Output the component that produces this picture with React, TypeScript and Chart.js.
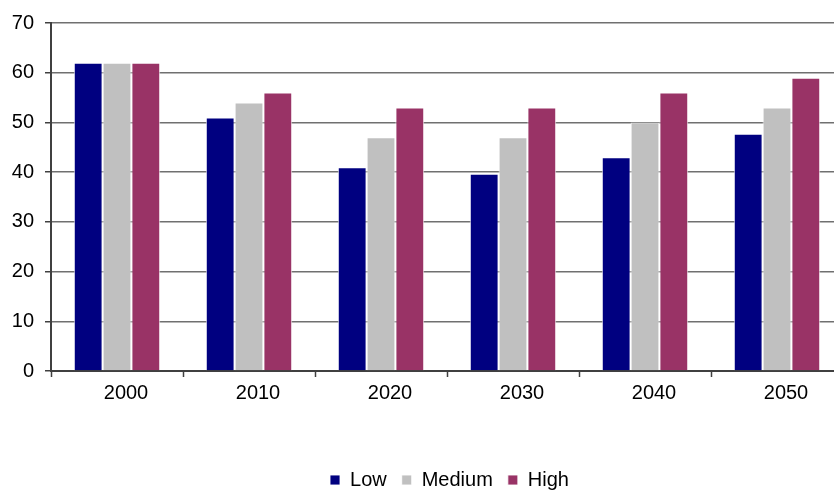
import React, { useEffect, useRef } from "react";
import { Chart, registerables } from "chart.js";

Chart.register(...registerables);

const years = ["2000", "2010", "2020", "2030", "2040", "2050"];
const lowValues = [62, 51, 41, 39.7, 43, 47.7];
const mediumValues = [62, 54, 47, 47, 50, 53];
const highValues = [62, 56, 53, 53, 56, 59];
const yTicks = [0, 10, 20, 30, 40, 50, 60, 70];

const FONT = "'Liberation Sans', Arial, sans-serif";

// Nudges the legend block lower and to the right of its default centred spot.
const legendOffset = {
  id: "legendOffset",
  afterLayout(chart: any) {
    const legend = chart.legend;
    if (!legend) return;
    legend.top += 11;
    legend.bottom += 11;
    legend.left += 28;
    legend.right += 28;
  },
};

export default function App() {
  const canvasRef = useRef<HTMLCanvasElement | null>(null);

  useEffect(() => {
    const canvas = canvasRef.current;
    if (!canvas) return;
    const chart = new Chart(canvas, {
      type: "bar",
      data: {
        labels: years,
        datasets: [
          {
            label: "Low",
            data: lowValues,
            backgroundColor: "#000080",
            borderColor: "rgba(255,255,255,0.85)",
            borderWidth: 1,
          },
          {
            label: "Medium",
            data: mediumValues,
            backgroundColor: "#c0c0c0",
            borderColor: "rgba(255,255,255,0.85)",
            borderWidth: 1,
          },
          {
            label: "High",
            data: highValues,
            backgroundColor: "#993366",
            borderColor: "rgba(255,255,255,0.85)",
            borderWidth: 1,
          },
        ],
      },
      plugins: [legendOffset],
      options: {
        animation: false,
        responsive: false,
        maintainAspectRatio: false,
        devicePixelRatio: 1,
        layout: { padding: { top: 22, right: 3, bottom: 2, left: 0 } },
        datasets: {
          bar: { categoryPercentage: 0.655, barPercentage: 1 },
        },
        plugins: {
          tooltip: { enabled: false },
          legend: {
            position: "bottom",
            labels: {
              boxWidth: 10,
              boxHeight: 10,
              padding: 15,
              color: "#000",
              font: { family: FONT, size: 20 },
            },
          },
        },
        scales: {
          x: {
            grid: {
              offset: true,
              drawOnChartArea: false,
              drawTicks: true,
              tickLength: 6,
              tickColor: "#404040",
              tickWidth: 1.5,
            },
            border: { color: "#404040", width: 2 },
            ticks: {
              color: "#000",
              padding: 4,
              labelOffset: 9,
              font: { family: FONT, size: 20 },
              maxRotation: 0,
            },
            afterFit: (scale: any) => {
              scale.height = 73;
            },
          },
          y: {
            min: 0,
            max: 70,
            afterBuildTicks: (scale: any) => {
              scale.ticks = yTicks.map((v) => ({ value: v }));
            },
            grid: {
              color: "#707070",
              lineWidth: 1.5,
              tickLength: 6,
              tickColor: "#404040",
              tickWidth: 1.5,
            },
            border: { color: "#404040", width: 2 },
            ticks: {
              color: "#000",
              padding: 11,
              font: { family: FONT, size: 20 },
            },
            afterFit: (scale: any) => {
              scale.width = 51;
            },
          },
        },
      },
    });
    return () => chart.destroy();
  }, []);

  return (
    <div
      style={{
        position: "fixed",
        left: 0,
        top: 0,
        width: 834,
        height: 491,
        overflow: "hidden",
        background: "#fff",
      }}
    >
      <canvas ref={canvasRef} width={846} height={491} style={{ display: "block" }} />
    </div>
  );
}
